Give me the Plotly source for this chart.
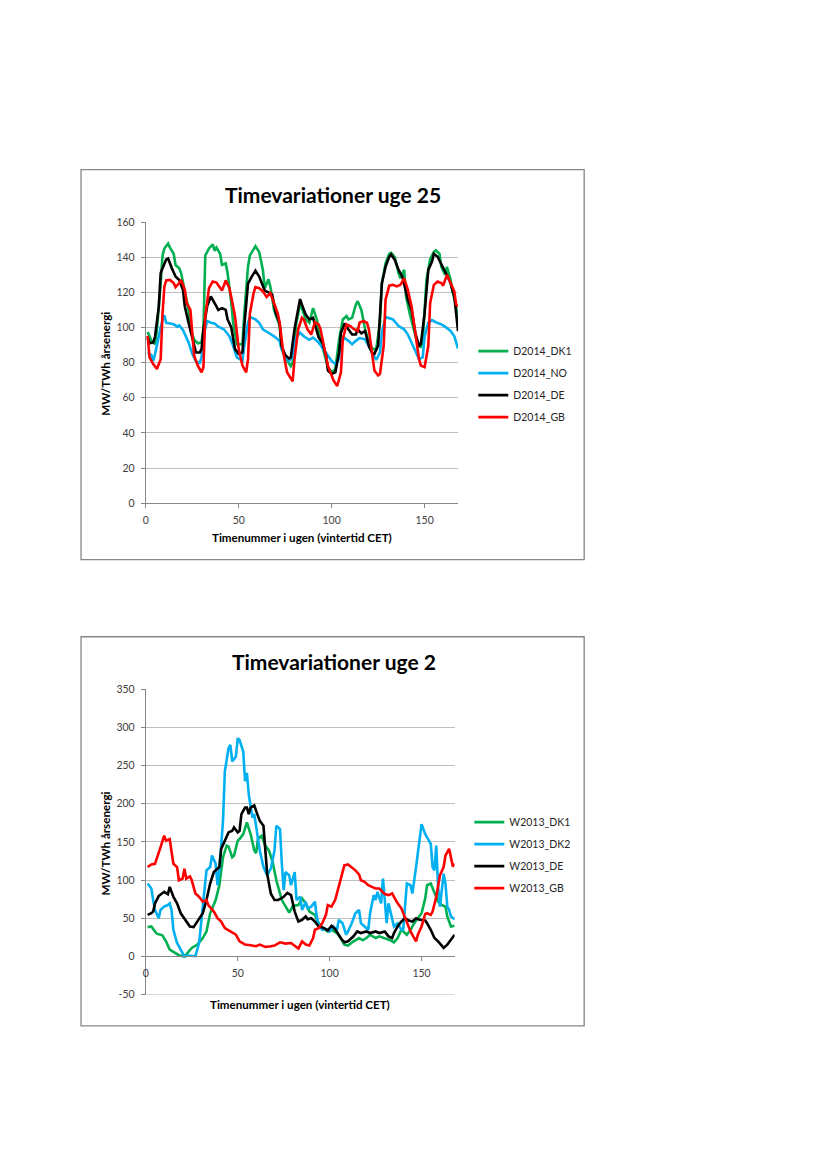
import plotly.graph_objects as go

# ---------------- Data: Timevariationer uge 25 ----------------
TOP_TITLE = "Timevariationer uge 25"
TOP_NAMES = ["D2014_DK1", "D2014_NO", "D2014_DE", "D2014_GB"]
TOP_Y_TICKS = [0, 20, 40, 60, 80, 100, 120, 140, 160]

D2014_DK1_H = [1, 3, 5, 6, 8, 9, 10, 12, 13, 14, 15, 16, 18, 19, 21, 23, 24, 26, 28, 30, 31, 32, 34, 36, 37, 38, 40, 41, 43, 44, 46, 47, 49, 52, 53, 55, 56, 58, 59, 61, 63, 64, 66, 67, 69, 72, 73, 75, 78, 79, 81, 83, 84, 86, 88, 90, 92, 94, 96, 98, 100, 102, 104, 106, 108, 109, 111, 113, 114, 116, 118, 120, 122, 124, 126, 127, 129, 131, 132, 134, 136, 137, 139, 140, 142, 144, 146, 148, 149, 151, 153, 155, 156, 158, 159, 161, 162, 164, 165, 167, 168]
D2014_DK1_V = [97.5, 92.4, 90.5, 99, 125, 141, 145, 147.8, 145.5, 144, 142, 135.6, 133.7, 131, 119.6, 110, 99, 93, 91, 91.5, 99, 141, 145, 147.4, 143.7, 145.5, 142, 135.6, 136.5, 131, 114, 102.7, 90.5, 90.5, 108, 134.6, 141, 145, 146.3, 143, 132.8, 122.4, 127.5, 123.4, 110, 101, 89.6, 83, 78, 80, 102.7, 113, 111, 104.6, 102.7, 111, 104.6, 93, 85.8, 77.4, 74.5, 76.4, 93, 104.6, 106.5, 104.6, 105.5, 113, 115, 110, 99, 91.5, 87.7, 87.7, 102.7, 125, 136.5, 142, 142.5, 140, 131, 128, 132.8, 117.7, 108, 99, 91.5, 88.6, 92.4, 127, 139, 143, 144, 142, 134.6, 130, 134.6, 127, 120.6, 112, 101]

D2014_NO_H = [1, 3, 4, 5, 7, 9, 10, 11, 13, 15, 17, 18, 20, 21, 23, 25, 27, 29, 30, 31, 33, 35, 37, 39, 42, 45, 47, 49, 52, 53, 55, 56, 59, 61, 63, 66, 69, 72, 73, 75, 77, 79, 80, 83, 85, 88, 90, 93, 95, 98, 100, 102, 104, 105, 107, 109, 111, 113, 115, 118, 120, 122, 124, 126, 127, 129, 131, 133, 136, 139, 141, 143, 145, 147, 149, 150, 152, 154, 156, 159, 161, 164, 166, 168]
D2014_NO_V = [85.6, 84.3, 81, 85, 95, 104.6, 106.9, 102.7, 102.3, 101.8, 100.5, 101.2, 98.6, 96, 91.5, 85, 80.6, 79.8, 83, 95, 103.7, 102.7, 102.3, 100.5, 99, 95, 89.6, 83, 81, 89.6, 102.7, 106, 104.6, 102.7, 99, 97, 95, 92.4, 87.7, 83, 81, 83, 93, 97, 95, 93, 94.3, 91.5, 88.6, 84, 81, 79.2, 82, 91.5, 94, 92.4, 90.5, 92.4, 94, 93.3, 89.6, 85.8, 81.5, 85.8, 97, 106, 105.5, 104.6, 100.8, 99, 96, 91.5, 86.8, 82, 83, 95, 102.7, 104.2, 103, 101.8, 100.5, 98, 95, 88]

D2014_DE_H = [1, 2, 4, 5, 7, 8, 9, 11, 12, 13, 14, 16, 18, 20, 21, 23, 25, 27, 29, 30, 31, 33, 35, 36, 38, 39, 41, 43, 44, 46, 48, 50, 52, 53, 55, 57, 59, 61, 63, 64, 66, 68, 70, 72, 73, 75, 77, 78, 80, 82, 83, 84, 86, 88, 90, 91, 93, 95, 97, 98, 100, 102, 104, 105, 107, 109, 111, 113, 114, 116, 118, 120, 122, 123, 125, 127, 129, 131, 132, 134, 136, 138, 139, 141, 143, 145, 147, 148, 150, 152, 154, 155, 157, 159, 161, 162, 164, 166, 167, 168]
D2014_DE_V = [94.3, 91, 91.5, 95, 112, 131, 133.7, 138.8, 139.3, 137, 133.7, 129, 127, 121.5, 112, 102.7, 94.3, 85.8, 85.8, 87.7, 99, 112, 117.7, 115.5, 112, 110, 111, 110, 104.6, 100, 87.7, 85, 85.8, 100.8, 125, 129, 132.4, 129, 124.3, 121, 120, 118.7, 108, 102.7, 89.6, 84.3, 82.4, 83, 99, 110, 116.2, 113, 107.4, 104.6, 105.5, 101.8, 94.3, 91.5, 84, 75.5, 73.6, 74.5, 85.8, 97, 102.3, 99, 96, 96, 99, 96.7, 98, 89.6, 85, 85, 89.6, 125, 134.6, 140.3, 141.6, 138.4, 132.8, 129, 125, 115.9, 110, 97, 89.6, 90.5, 108, 132.8, 137.5, 142, 140.3, 135.6, 131.8, 130, 125, 117.7, 108, 98]

D2014_GB_H = [1, 2, 4, 5, 6, 8, 9, 10, 11, 13, 15, 16, 18, 19, 21, 22, 24, 25, 26, 28, 30, 31, 32, 34, 36, 38, 39, 41, 43, 45, 47, 48, 50, 52, 54, 55, 56, 58, 59, 61, 63, 65, 67, 69, 71, 72, 74, 76, 78, 79, 80, 82, 84, 85, 87, 89, 91, 93, 94, 96, 98, 100, 101, 103, 105, 106, 108, 110, 112, 114, 115, 117, 119, 120, 122, 123, 125, 126, 128, 129, 131, 133, 135, 137, 139, 141, 143, 145, 147, 148, 150, 152, 153, 155, 157, 159, 160, 162, 164, 166, 167, 168]
D2014_GB_V = [95.2, 83, 79.2, 77.4, 76.4, 82, 108, 123.4, 126.8, 127.1, 125.3, 123, 125.3, 127.1, 121.5, 114, 110, 97, 84, 78.3, 74.5, 77.4, 106.5, 122.4, 126.2, 125.6, 124.3, 121, 126.8, 122.4, 112, 106.5, 87.7, 78.3, 74.5, 82, 108, 119.6, 123, 122.4, 120.6, 117.4, 119.6, 114, 108, 102.7, 85.8, 74.5, 70.8, 69.3, 82, 99, 105.5, 104.6, 99, 96, 103, 101.8, 99, 87.7, 78.3, 72.7, 69.9, 66.7, 74.5, 93.3, 101.8, 100.8, 99, 98, 102.7, 103.7, 102.7, 99, 82, 75.5, 72.7, 73.6, 89.6, 115.9, 123.8, 124.3, 123.4, 124.3, 128, 121.5, 112, 97, 82, 78.3, 77.4, 89.6, 114, 124.3, 126.2, 125.3, 123.8, 130, 125.3, 120.6, 113, 112]

# ---------------- Data: Timevariationer uge 2 ----------------
BOT_TITLE = "Timevariationer uge 2"
BOT_NAMES = ["W2013_DK1", "W2013_DK2", "W2013_DE", "W2013_GB"]
BOT_Y_TICKS = [-50, 0, 50, 100, 150, 200, 250, 300, 350]
BOT_Y_LABELS = ["-50", "0", "50", "100", "150", "200", "250", "300", "350"]

W2013_DK1_H = [1, 3, 5, 6, 9, 11, 13, 15, 18, 21, 23, 25, 28, 31, 33, 35, 38, 40, 42, 44, 45, 47, 48, 50, 51, 53, 55, 57, 59, 60, 61, 63, 65, 67, 69, 71, 74, 76, 78, 80, 83, 85, 87, 89, 92, 94, 97, 99, 101, 104, 106, 108, 110, 113, 116, 118, 120, 122, 125, 127, 130, 133, 135, 137, 139, 140, 142, 144, 146, 148, 150, 152, 153, 155, 157, 159, 161, 163, 164, 166, 168]
W2013_DK1_V = [38.5, 39.3, 32.8, 29.8, 27.7, 19.9, 9, 5.6, 1.7, 0, 5.6, 11.2, 15.6, 24.2, 32.8, 56.6, 73.9, 93.3, 130, 145.2, 143.9, 130, 132.2, 151.7, 153.8, 160.3, 175.5, 160.3, 138.7, 135.3, 153.8, 158.2, 145.2, 138.7, 123.6, 99.8, 73.9, 66.1, 57.5, 66.1, 67.4, 76.1, 69.6, 58.8, 54.5, 43.6, 35.9, 32.8, 35, 30.7, 24.2, 15.6, 14.3, 19.9, 24.2, 21.2, 24.2, 28.5, 24.2, 26.4, 24.2, 21.2, 18.6, 24.2, 35, 32.8, 28.5, 35, 43.6, 50.1, 56.6, 76.1, 93.3, 95.5, 82.5, 71.7, 67.4, 65.3, 52.3, 39.3, 40.2]

W2013_DK2_H = [1, 3, 4, 5, 7, 8, 10, 12, 13, 14, 15, 17, 19, 21, 23, 26, 27, 29, 30, 32, 33, 35, 36, 38, 39, 40, 42, 43, 45, 46, 47, 49, 50, 51, 53, 54, 55, 56, 58, 59, 61, 62, 64, 66, 68, 70, 71, 73, 74, 75, 76, 78, 79, 81, 82, 84, 85, 87, 88, 90, 92, 93, 94, 96, 98, 100, 102, 104, 105, 107, 109, 110, 112, 114, 116, 117, 119, 121, 122, 124, 125, 126, 128, 129, 130, 131, 132, 134, 135, 137, 139, 140, 142, 144, 145, 147, 148, 150, 152, 153, 155, 156, 157, 158, 159, 160, 162, 163, 164, 165, 166, 168]
W2013_DK2_V = [95.5, 89, 73.9, 60.9, 50.1, 60.9, 65.3, 67.4, 69.6, 60.9, 35, 17.7, 9, 0, 1.3, 0, 0.4, 17.7, 43.6, 95.5, 112.8, 117.1, 132.2, 121.4, 93.3, 112.8, 177.6, 242.4, 272.7, 277, 255.4, 261.9, 285.7, 283.5, 268.4, 229.5, 240.3, 212.2, 181.9, 186.3, 151.7, 138.7, 117.1, 106.3, 115, 138.7, 171.1, 166.8, 121.4, 86.9, 110.6, 106.3, 93.3, 110.6, 73.9, 78.2, 60.9, 71.7, 63.1, 65.3, 71.7, 52.3, 41.5, 35, 35.9, 32.8, 39.3, 35, 48, 43.6, 28.5, 32.8, 43.6, 56.6, 60.9, 43.6, 39.3, 35, 56.6, 80.4, 73.9, 84.7, 69.6, 102, 73.9, 43.6, 69.6, 48, 39.3, 43.6, 35, 35, 95.5, 93.3, 82.5, 117.1, 136.6, 173.3, 160.3, 156, 147.4, 117.1, 112.8, 145.2, 91.2, 65.3, 108.5, 95.5, 65.3, 60.9, 52.3, 48.8]

W2013_DE_H = [1, 3, 4, 5, 7, 9, 10, 12, 13, 15, 17, 19, 22, 24, 26, 28, 31, 33, 35, 37, 40, 41, 43, 45, 47, 48, 50, 51, 52, 54, 55, 56, 57, 59, 60, 62, 64, 65, 66, 68, 70, 72, 75, 77, 79, 81, 83, 85, 87, 88, 90, 92, 94, 97, 99, 101, 103, 106, 108, 110, 113, 115, 117, 120, 122, 125, 127, 130, 132, 134, 135, 137, 139, 141, 143, 145, 147, 149, 152, 153, 155, 157, 159, 161, 162, 164, 166, 168]
W2013_DE_V = [54.5, 56.6, 58.8, 69.6, 79.1, 82.5, 84.7, 81.7, 91.2, 78.2, 69.6, 56.6, 45.8, 39.3, 38.5, 45.8, 56.6, 73.9, 95.5, 110.6, 117.1, 140.9, 151.7, 162.5, 164.6, 169, 162.5, 164.6, 186.3, 194.9, 194.9, 186.3, 194.9, 197.9, 190.6, 177.6, 171.1, 134.4, 108.5, 82.5, 73.9, 73.9, 78.2, 83.4, 80.4, 58.8, 45.8, 48, 52.3, 48.8, 50.1, 45.8, 39.3, 37.2, 34.1, 40.2, 35.9, 24.2, 18.6, 19.9, 26.4, 32.8, 30.7, 32.8, 30.7, 32.8, 30.7, 32.8, 26.4, 24.2, 30.7, 39.3, 45.8, 50.1, 47.1, 45.8, 50.1, 48, 47.1, 43.6, 35, 24.2, 19.9, 14.3, 11.2, 15.6, 22, 28.5]

W2013_GB_H = [1, 3, 5, 6, 8, 10, 11, 13, 14, 15, 17, 18, 20, 21, 22, 24, 25, 27, 29, 31, 33, 34, 37, 39, 41, 43, 46, 49, 51, 54, 57, 60, 62, 65, 68, 70, 73, 76, 79, 81, 83, 85, 87, 89, 91, 92, 94, 96, 98, 99, 101, 103, 105, 107, 108, 110, 112, 114, 116, 117, 119, 121, 123, 125, 127, 129, 130, 132, 134, 135, 137, 139, 140, 142, 144, 146, 147, 148, 150, 152, 153, 155, 156, 158, 160, 162, 163, 165, 166, 167, 168]
W2013_GB_V = [117.1, 120.6, 121.4, 127.9, 143, 158.2, 151.7, 153.8, 138.7, 121.4, 117.1, 99.8, 102, 115, 102, 105, 99.8, 82.5, 78.2, 71.7, 73.9, 67.4, 58.8, 50.1, 45.8, 37.2, 32.8, 28.5, 19.9, 15.6, 14.7, 13.4, 15.6, 12.5, 13.4, 14.3, 18.6, 16.9, 17.7, 13.4, 10.4, 19.9, 15.6, 14.3, 24.2, 35, 37.2, 43.6, 54.5, 67.4, 65.3, 73.9, 91.2, 108.5, 119.3, 120.6, 117.1, 112.8, 107.6, 99.8, 97.7, 93.3, 91.2, 89, 89, 84.7, 81.7, 80.4, 82.5, 78.2, 69.6, 63.1, 56.6, 43.6, 32.8, 24.2, 19.9, 28.5, 39.3, 55.7, 56.6, 54.5, 58.8, 78.2, 106.3, 117.1, 132.2, 140.9, 127.9, 118, 121.4]

COLORS = ["#00B050", "#00B0F0", "#000000", "#FF0000"]
X_TICKS = [0, 50, 100, 150]
X_TITLE = "Timenummer i ugen (vintertid CET)"
Y_TITLE = "MW/TWh årsenergi"

# ---------------- Geometry (pixels of the 827x1169 page) ----------------
# The page body keeps an 8px margin, so the figure is 16px smaller than the
# window and page coordinates are shifted by 8px.
PAGE_W, PAGE_H = 827, 1169
OFF = 8
W, H = PAGE_W - 2 * OFF, PAGE_H - 2 * OFF
def px(x):
    return (x - OFF) / W
def py(y):
    return 1 - (y - OFF) / H

FONT = "Lato"
TICK_COLOR = "#404040"
AXIS_LINE = "#868686"
GRID = "#BFBFBF"

fig = go.Figure()

top_series = [(D2014_DK1_H, D2014_DK1_V), (D2014_NO_H, D2014_NO_V),
              (D2014_DE_H, D2014_DE_V), (D2014_GB_H, D2014_GB_V)]
for name, (hs, vs), col in zip(TOP_NAMES, top_series, COLORS):
    fig.add_trace(go.Scatter(x=hs, y=vs, mode="lines", name=name,
                             line=dict(color=col, width=2.6),
                             legendgroup=name, legend="legend",
                             xaxis="x", yaxis="y"))

bot_series = [(W2013_DK1_H, W2013_DK1_V), (W2013_DK2_H, W2013_DK2_V),
              (W2013_DE_H, W2013_DE_V), (W2013_GB_H, W2013_GB_V)]
for name, (hs, vs), col in zip(BOT_NAMES, bot_series, COLORS):
    fig.add_trace(go.Scatter(x=hs, y=vs, mode="lines", name=name,
                             line=dict(color=col, width=2.6),
                             legendgroup=name, legend="legend2",
                             xaxis="x2", yaxis="y2"))

tickfont = dict(family=FONT, size=10.5, color=TICK_COLOR)

def xaxis_common():
    return dict(range=[0, 168], tickvals=X_TICKS, showgrid=False, zeroline=False,
                showline=True, linecolor=AXIS_LINE, linewidth=1,
                ticks="outside", ticklen=4, tickcolor=AXIS_LINE,
                tickfont=tickfont, ticklabelstandoff=3, fixedrange=True)

def yaxis_common():
    return dict(showgrid=True, gridcolor=GRID, gridwidth=1, zeroline=False,
                showline=True, linecolor=AXIS_LINE, linewidth=1,
                ticks="outside", ticklen=4, tickcolor=AXIS_LINE,
                tickfont=tickfont, ticklabelstandoff=4, fixedrange=True)

# top plot area: x 143.3..456.7, y 218.3..502.3
xa1 = xaxis_common()
xa1.update(domain=[px(143.3), px(456.7)], anchor="y")
ya1 = yaxis_common()
ya1.update(domain=[py(502.3), py(218.3)], range=[TOP_Y_TICKS[0], TOP_Y_TICKS[-1]],
           tickvals=TOP_Y_TICKS, anchor="x")

# bottom plot area: x 143.3..453.3, y 690.3..999 (x axis crosses at y = 0)
xa2 = xaxis_common()
xa2.update(domain=[px(143.3), px(453.3)], anchor="free", position=py(960.3))
ya2 = yaxis_common()
ya2.update(domain=[py(999), py(690.3)], range=[BOT_Y_TICKS[0], BOT_Y_TICKS[-1]],
           tickvals=BOT_Y_TICKS, ticktext=BOT_Y_LABELS, anchor="x2")

legend_font = dict(family=FONT, size=10.5, color="#262626")

def note(text, x, y, size, angle=0):
    return dict(text=text, x=px(x), y=py(y), xref="paper", yref="paper",
                showarrow=False, textangle=angle,
                font=dict(family=FONT, size=size, color="#000000"),
                xanchor="center", yanchor="middle")

annotations = [
    note("<b>" + TOP_TITLE + "</b>", 331, 190.7, 21),
    note("<b>" + BOT_TITLE + "</b>", 331.7, 662.3, 21),
    note("<b>" + X_TITLE + "</b>", 299.7, 537, 11.6),
    note("<b>" + X_TITLE + "</b>", 298.3, 1009.3, 11.6),
    note("<b>" + Y_TITLE + "</b>", 102.7, 361, 11.6, -90),
    note("<b>" + Y_TITLE + "</b>", 102.7, 845.8, 11.6, -90),
]

shapes = [
    dict(type="rect", xref="paper", yref="paper", x0=px(78.3), x1=px(583.3),
         y0=py(559.3), y1=py(165.3), line=dict(color="#868686", width=1.3)),
    dict(type="rect", xref="paper", yref="paper", x0=px(78.3), x1=px(583.3),
         y0=py(1030.5), y1=py(637.3), line=dict(color="#868686", width=1.3)),
    # bottom gridline of the lower chart (at the minimum of its value axis)
    dict(type="line", xref="x2 domain", yref="y2", x0=0, x1=1,
         y0=BOT_Y_TICKS[0], y1=BOT_Y_TICKS[0], layer="below",
         line=dict(color=GRID, width=1)),
]

fig.update_layout(
    width=W, height=H, margin=dict(l=0, r=0, t=0, b=0),
    paper_bgcolor="white", plot_bgcolor="white",
    xaxis=xa1, yaxis=ya1, xaxis2=xa2, yaxis2=ya2,
    showlegend=True,
    legend=dict(x=px(472), y=py(334), xanchor="left", yanchor="top",
                font=legend_font, tracegroupgap=3, bgcolor="rgba(0,0,0,0)",
                itemwidth=30, itemclick=False, itemdoubleclick=False),
    legend2=dict(x=px(468), y=py(810), xanchor="left", yanchor="top",
                 font=legend_font, tracegroupgap=3, bgcolor="rgba(0,0,0,0)",
                 itemwidth=30, itemclick=False, itemdoubleclick=False),
    annotations=annotations, shapes=shapes,
)

fig.write_html("out.html")
